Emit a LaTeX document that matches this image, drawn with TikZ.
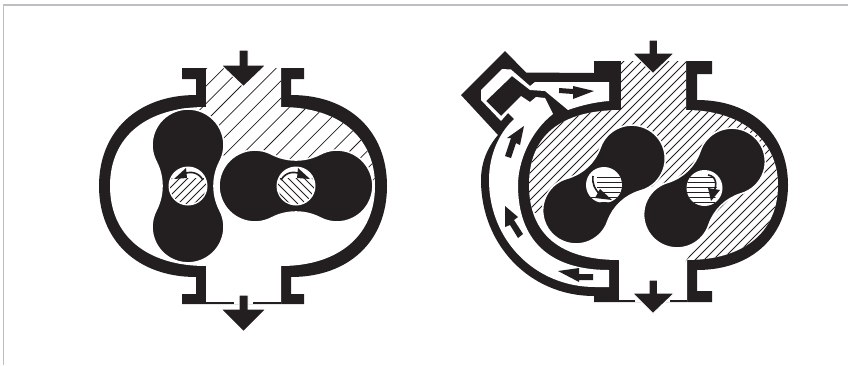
\documentclass[tikz,border=0pt]{standalone}
\usepackage{tikz}
\usetikzlibrary{calc}
\usepackage{xcolor}
\definecolor{pumpblack}{RGB}{35,31,32}
\definecolor{framegrey}{RGB}{190,190,195}
\tikzset{
    housing/.style={fill=pumpblack},
    cavity/.style={fill=white},
    lobeshape/.style={fill=pumpblack, draw=white, line width=1.6pt},
    flowarrow/.style={fill=pumpblack, draw=white, line width=1pt, line join=miter},
    smallarrow/.style={fill=pumpblack},
    hatchline/.style={draw=pumpblack, line width=0.75pt},
    thinline/.style={draw=pumpblack, line width=1.3pt},
    turnline/.style={draw=pumpblack, line width=1.6pt},
    frameline/.style={draw=framegrey, line width=1.5pt}
}
% rotor: centre x, centre y, angle, scale
\newcommand{\rotor}[4]{
    \begin{scope}[shift={(#1,#2)},rotate=#3,scale=#4]
        \path[lobeshape] (-24.44,31.96)
            arc[start angle=62.6,end angle=297.4,radius=36]
            arc[start angle=117.4,end angle=62.6,radius=53]
            arc[start angle=242.6,end angle=477.4,radius=36]
            arc[start angle=297.4,end angle=242.6,radius=53] -- cycle;
    \end{scope}
}
\newcommand{\leftcavity}{(206,68) -- (281,68) -- (281,107)
    .. controls (339,107) and (375,137) .. (375,186)
    .. controls (375,235) and (339,266) .. (281,266)
    -- (281,304) -- (206,304) -- (206,266)
    .. controls (146,266) and (110,235) .. (110,186)
    .. controls (110,137) and (146,107) .. (206,107) -- cycle}
\newcommand{\rightcavity}{(621,61) -- (686,61) -- (686,110)
    .. controls (741,110) and (778,140) .. (778,185)
    .. controls (778,232) and (744,260) .. (687,260)
    -- (687,302) -- (619,302) -- (619,260)
    .. controls (560,260) and (529,234) .. (529,185)
    .. controls (529,136) and (560,110) .. (621,110) -- cycle}
\begin{document}
\begin{tikzpicture}[x=1pt,y=1pt,yscale=-1]
    \useasboundingbox (0,0) rectangle (848,365);
    \draw[frameline] (848,5) -- (3.5,5) -- (3.5,365);

    % left pump
    \path[housing] (182,68) -- (304,68) -- (304,79) -- (291,79) -- (291,95)
        .. controls (349,95) and (387,131) .. (387,186)
        .. controls (387,241) and (349,277) .. (291,277)
        -- (291,294) -- (304,294) -- (304,304) -- (182,304) -- (182,294) -- (196,294) -- (196,277)
        .. controls (138,277) and (99,241) .. (99,186)
        .. controls (99,131) and (138,95) .. (196,95)
        -- (196,79) -- (182,79) -- cycle;
    \path[cavity] \leftcavity;
    \draw[thinline] (206,303) -- (234,303);
    \draw[thinline] (253,303) -- (281,303);
    \begin{scope}
        \clip \leftcavity;
        \clip (178,60) -- (380,60) -- (380,183) -- (296,186) -- (255,186) -- (232,158) -- (222,155) -- (188,146) -- (178,100) -- cycle;
        \foreach \c in {205.2,222.6,...,700}
            \draw[hatchline] ({\c-40},40) -- ({\c-320},320);
    \end{scope}
    \rotor{188}{186}{90}{1}
    \rotor{296}{186}{0}{1}
    % left pump shafts
    \fill[white] (188,186) circle[radius=19.5];
    \fill[white] (296,186) circle[radius=19.5];
    \begin{scope}
        \clip (188,186) circle[radius=18];
        \clip (165,178) rectangle (210,210);
        \foreach \c in {342,350,...,406}
            \draw[hatchline] ({\c-160},160) -- ({\c-210},210);
    \end{scope}
    \begin{scope}
        \clip (296,186) circle[radius=18];
        \clip (275,178) rectangle (318,210);
        \foreach \c in {78,86,...,142}
            \draw[hatchline] ({\c+160},160) -- ({\c+210},210);
    \end{scope}
    \draw[turnline] (203,180) .. controls (198,172) and (191,171) .. (183,174);
    \path[smallarrow] (186,168) -- (174,179) -- (187,178) -- cycle;
    \draw[turnline] (281,180) .. controls (286,172) and (293,171) .. (301,174);
    \path[smallarrow] (298,168) -- (310,179) -- (297,178) -- cycle;
    % left pump arrows
    \path[flowarrow] (239,50) -- (248,50) -- (248,65) -- (266,65) -- (243.5,86.5) -- (221,65) -- (239,65) -- cycle;
    \path[flowarrow] (239,295) -- (248,295) -- (248,309) -- (266,309) -- (243.5,331.5) -- (221,309) -- (239,309) -- cycle;

    % right pump
    \path[housing] (594,61) -- (712,61) -- (712,74) -- (697,74) -- (697,100)
        .. controls (752,100) and (788,134) .. (788,185)
        .. controls (788,236) and (752,270) .. (697,270)
        -- (697,291) -- (712,291) -- (712,302) -- (594,302) -- (594,296)
        .. controls (530,296) and (481,245) .. (481,180)
        .. controls (481,163) and (487,148) .. (498,135)
        -- (461,95) -- (505,51) -- (526,72.5) -- (594,73) -- cycle;
    % bypass channel
    \path[cavity] (609,287) -- (609,270)
        .. controls (549,270) and (518,240) .. (518,185)
        .. controls (518,162) and (530,132) .. (553,114)
        -- (545,98) -- (536,97) -- (530,102) -- (521,96) -- (501,116) -- (486,101)
        -- (512,76) -- (530,90) -- (545,91) -- (568,110)
        .. controls (582,105) and (596,102) .. (609,101)
        -- (609,82) -- (535,82) -- (530,86) -- (511,69.5) -- (502,69) -- (481,90) -- (481,100)
        -- (501,121) -- (508,113) -- (514,119)
        .. controls (497,135) and (489,158) .. (489,180)
        .. controls (489,240) and (535,287) .. (595,287) -- cycle;
    \path[cavity] \rightcavity;
    \draw[thinline] (619,301) -- (635,301);
    \draw[thinline] (670,301) -- (687,301);
    \begin{scope}
        \clip \rightcavity;
        \clip (520,55) -- (790,55) -- (790,262) -- (685,262) -- (708,230)
            .. controls (712,212) and (725,198) .. (750,190)
            -- (704,188) -- (657,187) -- (604,184) -- (577,210) -- (533,213) -- (520,213) -- cycle;
        \foreach \c in {640,649,...,1060}
            \draw[hatchline] ({\c-40},40) -- ({\c-320},320);
    \end{scope}
    \rotor{604}{184.5}{-43}{0.93}
    \rotor{704.5}{188}{-44}{0.93}
    % right pump shafts
    \fill[white] (604,185) circle[radius=18];
    \fill[white] (704.5,188) circle[radius=18];
    \begin{scope}
        \clip (604,185) circle[radius=18];
        \clip (597,160) -- (630,160) -- (630,210) -- (586,210) -- (590,196) -- (597,193) -- cycle;
        \foreach \y in {177,182,...,202}
            \draw[hatchline] (585,\y) -- (623,\y);
    \end{scope}
    \begin{scope}
        \clip (704.5,188) circle[radius=18];
        \clip (680,160) -- (708,160) -- (717,185) -- (714,210) -- (680,210) -- cycle;
        \foreach \y in {177,182,...,202}
            \draw[hatchline] (685,\y) -- (724,\y);
    \end{scope}
    \draw[turnline] (593,176) .. controls (592,184) and (595,190) .. (600,194);
    \path[smallarrow] (612,200) -- (600,189) -- (595,198) -- cycle;
    \draw[turnline] (708,175) .. controls (716,176) and (718,184) .. (713,194);
    \path[smallarrow] (720,190) -- (708,188) -- (711,201) -- cycle;
    % right pump arrows
    \path[flowarrow] (649,40) -- (657.5,40) -- (657.5,53) -- (674.5,53) -- (653,73.5) -- (632.5,53) -- (649,53) -- cycle;
    \path[flowarrow] (649,280) -- (657.5,280) -- (657.5,293) -- (674.5,293) -- (653,313.5) -- (632.5,293) -- (649,293) -- cycle;
    % channel arrows
    \path[smallarrow] (559,88) -- (573,89) -- (573,86) -- (594,91) -- (573,99) -- (573,94) -- (559,93) -- cycle;
    \path[smallarrow] (505,156) -- (511,138) -- (507,138) -- (524,126) -- (520,145) -- (516,143) -- (511,158) -- cycle;
    \path[smallarrow] (518,238) -- (510,225) -- (505,227) -- (505,206) -- (518,217) -- (514,220) -- (523,234) -- cycle;
    \path[smallarrow] (593,274) -- (579,274) -- (579,268) -- (558,271) -- (579,282) -- (579,280) -- (593,280) -- cycle;
\end{tikzpicture}
\end{document}
